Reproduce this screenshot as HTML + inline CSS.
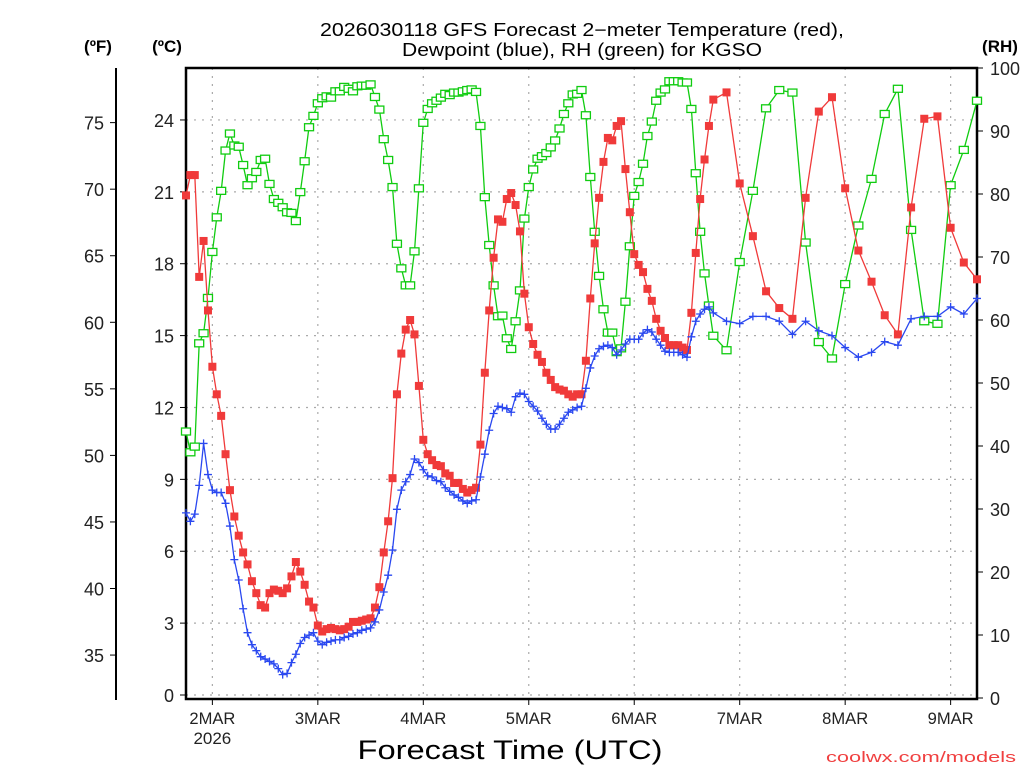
<!DOCTYPE html>
<html><head><meta charset="utf-8"><title>GFS Forecast KGSO</title>
<style>
html,body{margin:0;padding:0;background:#fff;}
svg{display:block;font-family:"Liberation Sans",sans-serif;}
</style></head>
<body>
<svg id="chart" width="1024" height="768" viewBox="0 0 1024 768" xmlns="http://www.w3.org/2000/svg">
<rect x="0" y="0" width="1024" height="768" fill="#fff"/>
<g font-size="18" fill="#000" text-anchor="middle">
<text x="582" y="36" textLength="524" lengthAdjust="spacingAndGlyphs">2026030118 GFS Forecast 2−meter Temperature (red),</text>
<text x="582" y="56" textLength="360" lengthAdjust="spacingAndGlyphs">Dewpoint (blue), RH (green) for KGSO</text>
</g>
<text x="98" y="52" font-size="17" font-weight="bold" text-anchor="middle">(ºF)</text>
<text x="167" y="52" font-size="17" font-weight="bold" text-anchor="middle">(ºC)</text>
<text x="1000" y="52" font-size="17" font-weight="bold" text-anchor="middle">(RH)</text>
<g id="grid"></g>
<g id="axes"></g>
<g id="series"></g>
<text x="510" y="759" font-size="27" text-anchor="middle" textLength="305" lengthAdjust="spacingAndGlyphs">Forecast Time (UTC)</text>
<text x="1016" y="762" font-size="15" fill="#f04040" text-anchor="end" textLength="190" lengthAdjust="spacingAndGlyphs">coolwx.com/models</text>
</svg>
<script>
// forecast hours: hourly 0..120, 3-hourly to 180
const hours = [0,1,2,3,4,5,6,7,8,9,10,11,12,13,14,15,16,17,18,19,20,21,22,23,24,25,26,27,28,29,30,31,32,33,34,35,36,37,38,39,40,41,42,43,44,45,46,47,48,49,50,51,52,53,54,55,56,57,58,59,60,61,62,63,64,65,66,67,68,69,70,71,72,73,74,75,76,77,78,79,80,81,82,83,84,85,86,87,88,89,90,91,92,93,94,95,96,97,98,99,100,101,102,103,104,105,106,107,108,109,110,111,112,113,114,115,116,117,118,119,120,123,126,129,132,135,138,141,144,147,150,153,156,159,162,165,168,171,174,177,180];
const tempC = [20.85,21.7,21.7,17.45,18.95,16.05,13.7,12.55,11.65,10.05,8.55,7.45,6.65,5.95,5.45,4.75,4.25,3.75,3.65,4.25,4.4,4.35,4.25,4.45,4.95,5.55,5.15,4.6,3.9,3.65,2.9,2.65,2.75,2.8,2.75,2.7,2.75,2.85,3.05,3.05,3.1,3.15,3.2,3.65,4.5,5.95,7.25,9.05,12.55,14.25,15.25,15.65,15.05,12.9,10.65,10.05,9.8,9.6,9.55,9.25,9.15,8.85,8.85,8.6,8.45,8.55,8.65,10.45,13.45,16.05,18.25,19.85,19.75,20.7,20.95,20.45,19.35,16.75,15.35,14.65,14.2,13.9,13.45,13.15,12.85,12.75,12.7,12.55,12.45,12.55,12.55,13.95,16.55,18.85,20.75,22.25,23.25,23.15,23.75,23.95,21.95,20.15,18.4,17.95,17.65,16.95,16.45,15.7,15.2,14.9,14.6,14.6,14.6,14.5,14.4,15.95,18.45,20.7,22.35,23.75,24.85,25.15,21.35,19.15,16.85,16.15,15.7,20.75,24.35,24.95,21.15,18.55,17.25,15.85,15.05,20.35,24.05,24.15,19.5,18.05,17.35];
const dewC = [7.6,7.25,7.55,8.75,10.5,9.2,8.55,8.45,8.45,8.0,7.05,5.65,4.8,3.6,2.6,2.1,1.85,1.6,1.5,1.4,1.3,1.1,0.85,0.9,1.35,1.7,2.15,2.4,2.5,2.6,2.25,2.1,2.2,2.25,2.3,2.3,2.4,2.45,2.55,2.6,2.7,2.75,2.8,3.05,3.55,4.3,5.0,6.05,7.75,8.55,8.9,9.2,9.85,9.7,9.4,9.15,9.1,8.95,8.9,8.65,8.5,8.35,8.25,8.1,8.0,8.1,8.15,9.1,10.05,11.05,11.75,12.05,12.0,11.95,11.8,12.45,12.6,12.55,12.25,12.05,11.85,11.55,11.3,11.1,11.1,11.3,11.55,11.8,11.9,12.0,12.05,12.8,13.65,14.15,14.45,14.55,14.6,14.5,14.2,14.4,14.65,14.85,14.85,14.85,15.1,15.25,15.15,14.85,14.6,14.35,14.3,14.3,14.3,14.2,14.1,14.95,15.6,15.9,16.1,16.2,15.95,15.6,15.5,15.8,15.8,15.6,15.05,15.6,15.2,15.0,14.5,14.1,14.3,14.75,14.6,15.7,15.8,15.8,16.2,15.9,16.55];
const rhPct = [42.3,39.0,39.9,56.3,57.9,63.5,70.8,76.3,80.5,86.9,89.6,87.7,87.5,84.6,81.4,82.5,83.5,85.4,85.6,81.6,79.2,78.6,77.9,77.1,77.0,75.7,80.3,85.2,90.6,92.4,94.4,95.2,95.5,95.3,96.3,96.3,97.0,96.7,96.3,97.1,97.2,97.2,97.4,95.4,93.4,88.7,85.4,81.1,72.1,68.2,65.5,65.5,70.9,80.9,91.3,93.5,94.4,94.8,95.3,95.9,95.7,96.1,96.1,96.3,96.5,96.6,96.2,90.8,79.5,71.9,65.5,60.6,60.7,57.1,55.4,59.8,64.7,76.1,81.1,83.9,85.6,86.0,86.5,87.4,88.5,90.4,92.7,94.4,95.8,95.9,96.5,92.5,82.7,74.0,67.0,61.7,58.0,58.0,54.9,55.5,62.9,71.7,79.7,81.9,84.8,89.2,91.5,94.8,96.1,96.6,97.9,97.9,97.9,97.7,97.7,93.5,83.3,74.0,67.4,62.3,57.5,55.2,69.2,80.5,93.6,96.5,96.1,72.3,56.5,53.9,65.7,75.0,82.4,92.7,96.7,74.3,59.8,59.4,81.4,87.0,94.8];
const dayLabels = ["2MAR","3MAR","4MAR","5MAR","6MAR","7MAR","8MAR","9MAR"];
const dayHours = [6,30,54,78,102,126,150,174];
const celsiusTicks = [0,3,6,9,12,15,18,21,24];
const fahrenheitTicks = [35,40,45,50,55,60,65,70,75];
const rhTicks = [0,10,20,30,40,50,60,70,80,90,100];

const NS="http://www.w3.org/2000/svg";
const X0=186,X1=977,Y0=68,Y1=699;
const xH = h => X0 + h*(X1-X0)/180;
const yC = c => 695 - c*23.96;
const yF = f => yC((f-32)*5/9);
const yRH = r => 698 - r*6.3;
function mk(tag, attrs, parent){const e=document.createElementNS(NS,tag);for(const k in attrs)e.setAttribute(k,attrs[k]);parent.appendChild(e);return e;}
const grid=document.getElementById('grid'), axes=document.getElementById('axes'), series=document.getElementById('series');

celsiusTicks.forEach(c=>{
  const l=mk('line',{x1:X0,x2:X1,y1:yC(c),y2:yC(c),stroke:'#aaa','stroke-width':1.2,'stroke-dasharray':'2 6'},grid);
  
  
  const t=mk('line',{x1:X0-6,x2:X0,y1:yC(c),y2:yC(c),stroke:'#000','stroke-width':1},axes);
  
  
  const tx=mk('text',{x:X0-12,y:yC(c)+7,'font-size':18,'text-anchor':'end',fill:'#222'},axes);
  tx.textContent=c;
  
  
});
fahrenheitTicks.forEach(f=>{
  const t=mk('line',{x1:110,x2:116,y1:yF(f),y2:yF(f),stroke:'#000','stroke-width':1},axes);
  
  
  const tx=mk('text',{x:104,y:yF(f)+7,'font-size':18,'text-anchor':'end',fill:'#222'},axes);
  tx.textContent=f;
  
  
});
rhTicks.forEach(r=>{
  const t=mk('line',{x1:X1,x2:X1+6,y1:yRH(r),y2:yRH(r),stroke:'#000','stroke-width':1},axes);
  
  
  const tx=mk('text',{x:X1+13,y:yRH(r)+7,'font-size':18,'text-anchor':'start',fill:'#222'},axes);
  tx.textContent=r;
  
  
});
dayHours.forEach((h,i)=>{
  const x=xH(h);
  const l=mk('line',{x1:x,x2:x,y1:Y0,y2:Y1,stroke:'#aaa','stroke-width':1.2,'stroke-dasharray':'2 6'},grid);
  
  
  const t=mk('line',{x1:x,x2:x,y1:Y1,y2:Y1+6,stroke:'#000','stroke-width':1},axes);
  
  
  const tx=mk('text',{x:x,y:724,'font-size':17,'text-anchor':'middle',fill:'#222',textLength:46,lengthAdjust:'spacingAndGlyphs'},axes);
  tx.textContent=dayLabels[i];
  
  
});
const yr=mk('text',{x:xH(dayHours[0]),y:744,'font-size':17,'text-anchor':'middle',fill:'#222'},axes);
yr.textContent="2026";



const frame=mk('rect',{x:X0,y:Y0,width:X1-X0,height:Y1-Y0,fill:'none',stroke:'#000','stroke-width':2.5},axes);


const fax=mk('line',{x1:116,x2:116,y1:Y0,y2:Y1+1,stroke:'#000','stroke-width':2},axes);



function drawSeries(vals, yfn, color, kind, name){
  const g=mk('g',{},series);
  
  
  const pts=hours.map((h,i)=>xH(h).toFixed(1)+','+yfn(vals[i]).toFixed(1)).join(' ');
  const pl=mk('polyline',{points:pts,fill:'none',stroke:color,'stroke-width':1.3},g);
  
  
  hours.forEach((h,i)=>{
    const x=xH(h), y=yfn(vals[i]);
    let m;
    if(kind==='filled'){m=mk('rect',{x:x-4,y:y-4,width:8,height:8,fill:color},g);}
    else if(kind==='open'){m=mk('rect',{x:x-4.5,y:y-3.5,width:9,height:7,fill:'#fff',stroke:color,'stroke-width':1.3},g);}
    else {m=mk('path',{d:`M${x-4},${y}H${x+4}M${x},${y-4}V${y+4}`,stroke:color,'stroke-width':1.3},g);}
    
    
  });
}
drawSeries(rhPct, yRH, '#10cc10', 'open', 'rh');
drawSeries(tempC, yC, '#f03a3a', 'filled', 'temperature');
drawSeries(dewC, yC, '#2a48f0', 'plus', 'dewpoint');
</script>
</body></html>
